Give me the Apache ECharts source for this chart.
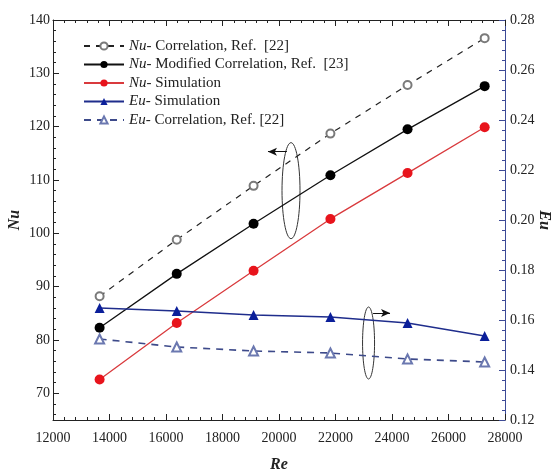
<!DOCTYPE html>
<html>
<head>
<meta charset="utf-8">
<script src="https://cdn.jsdelivr.net/npm/echarts@6/dist/echarts.min.js"></script>
<style>
  html, body { margin: 0; padding: 0; background: #fff; }
  #chart { width: 557px; height: 475px; }
</style>
</head>
<body>
<div id="chart"></div>
<script>
// Re values (x axis)
const reValues = [13650, 16380, 19100, 21820, 24550, 27280];

// Nu series (left axis)
const nuCorrelation = [88.2, 98.8, 108.9, 118.7, 127.8, 136.6];
const nuModified = [82.3, 92.4, 101.8, 110.9, 119.5, 127.6];
const nuSimulation = [72.6, 83.2, 93.0, 102.7, 111.3, 119.9];

// Eu series (right axis)
const euSimulation = [0.1648, 0.1636, 0.1620, 0.1612, 0.1588, 0.1536];
const euCorrelation = [0.1524, 0.1492, 0.1476, 0.1468, 0.1444, 0.1432];

// tick labels
const nuTicks = [70, 80, 90, 100, 110, 120, 130, 140];
const nuMinorTicks = [66, 68, 72, 74, 76, 78, 82, 84, 86, 88, 92, 94, 96, 98,
  102, 104, 106, 108, 112, 114, 116, 118, 122, 124, 126, 128, 132, 134, 136, 138];

// annotations: [Re, value]
const nuArrow = [[20280, 115.3], [19610, 115.3]];
const euArrow = [[23330, 0.1628], [23930, 0.1628]];
const nuEllipse = [20425, 108.0];
const euEllipse = [23170, 0.1508];

const serif = '"Liberation Serif", "DejaVu Serif", serif';
const legendNames = [
  'Nu- Correlation, Ref.  [22]',
  'Nu- Modified Correlation, Ref.  [23]',
  'Nu- Simulation',
  'Eu- Simulation',
  'Eu- Correlation, Ref. [22]'
];

const chart = echarts.init(document.getElementById('chart'));

const pairs = (ys) => reValues.map((x, i) => [x, ys[i]]);

const arrowLine = (pts) => ({
  silent: true,
  symbol: ['none', 'arrow'],
  symbolSize: [6, 9],
  label: { show: false },
  lineStyle: { color: '#111', width: 1, type: 'solid' },
  data: [[{ coord: pts[0] }, { coord: pts[1] }]]
});

const axisName = { fontFamily: serif, fontSize: 16, fontWeight: 'bold', fontStyle: 'italic', color: '#222' };
const tickLabel = { fontFamily: serif, fontSize: 14, color: '#222' };

const option = {
  animation: false,
  textStyle: { fontFamily: serif },
  grid: { left: 53, right: 52, top: 20, bottom: 55, containLabel: false, outerBoundsMode: 'none' },
  legend: {
    orient: 'vertical',
    left: 78,
    top: 33,
    itemWidth: 40,
    itemHeight: 9,
    itemGap: 2.5,
    data: legendNames,
    formatter: (name) => {
      const parts = name.split('- ');
      return '{i|' + parts[0] + '}{n|- ' + parts.slice(1).join('- ') + '}';
    },
    textStyle: {
      fontFamily: serif,
      fontSize: 15,
      lineHeight: 16,
      color: '#222',
      rich: {
        i: { fontStyle: 'italic', fontFamily: serif, fontSize: 15, lineHeight: 16, color: '#222' },
        n: { fontFamily: serif, fontSize: 15, lineHeight: 16, color: '#222' }
      }
    }
  },
  xAxis: [
    {
      type: 'value', position: 'bottom', min: 12000, max: 28000, interval: 2000,
      name: 'Re', nameLocation: 'middle', nameGap: 37, nameMoveOverlap: false,
      nameTextStyle: axisName,
      axisLine: { lineStyle: { color: '#222', width: 1 } },
      axisTick: { inside: true, length: 6, lineStyle: { color: '#222' } },
      minorTick: { show: true, splitNumber: 5, length: 3, lineStyle: { color: '#222' } },
      axisLabel: Object.assign({ margin: 11, formatter: (v) => String(v) }, tickLabel),
      splitLine: { show: false }
    },
    {
      type: 'value', position: 'top', min: 12000, max: 28000, interval: 2000,
      axisLine: { lineStyle: { color: '#222', width: 1 } },
      axisTick: { inside: true, length: 6, lineStyle: { color: '#222' } },
      minorTick: { show: true, splitNumber: 5, length: 3, lineStyle: { color: '#222' } },
      axisLabel: { show: false },
      splitLine: { show: false }
    }
  ],
  yAxis: [
    {
      type: 'value', position: 'left', min: 65, max: 140,
      name: 'Nu', nameLocation: 'middle', nameGap: 30, nameRotate: 90, nameMoveOverlap: false,
      nameTextStyle: axisName,
      axisLine: { show: true, lineStyle: { color: '#222', width: 1 } },
      axisTick: { show: true, inside: true, length: 6, customValues: nuTicks, lineStyle: { color: '#222' } },
      axisLabel: Object.assign({ margin: 3, customValues: nuTicks }, tickLabel),
      splitLine: { show: false }
    },
    {
      type: 'value', position: 'right', min: 0.12, max: 0.28, interval: 0.02,
      name: 'Eu', nameLocation: 'middle', nameGap: 31, nameRotate: -90, nameMoveOverlap: false,
      nameTextStyle: axisName,
      axisLine: { show: true, lineStyle: { color: '#3d4a96', width: 1 } },
      axisTick: { show: true, inside: true, length: 6, lineStyle: { color: '#3d4a96' } },
      minorTick: { show: true, splitNumber: 5, length: 3, lineStyle: { color: '#3d4a96' } },
      axisLabel: Object.assign({ margin: 5, formatter: (v) => v.toFixed(2) }, tickLabel),
      splitLine: { show: false }
    },
    {
      type: 'value', position: 'left', min: 65, max: 140,
      axisLine: { show: false },
      axisTick: { show: true, inside: true, length: 3, customValues: nuMinorTicks, lineStyle: { color: '#222' } },
      axisLabel: { show: false },
      splitLine: { show: false }
    }
  ],
  series: [
    {
      name: legendNames[0], type: 'line', yAxisIndex: 0,
      data: pairs(nuCorrelation),
      symbol: 'emptyCircle', symbolSize: 8,
      lineStyle: { color: '#222', width: 1.2, type: [6, 6] },
      itemStyle: { color: '#7a7a7a', borderWidth: 1 },
      markLine: arrowLine(nuArrow)
    },
    {
      name: legendNames[1], type: 'line', yAxisIndex: 0,
      data: pairs(nuModified),
      symbol: 'circle', symbolSize: 10,
      lineStyle: { color: '#111', width: 1.3 },
      itemStyle: { color: '#000' }
    },
    {
      name: legendNames[2], type: 'line', yAxisIndex: 0,
      data: pairs(nuSimulation),
      symbol: 'circle', symbolSize: 10,
      lineStyle: { color: '#d93a3d', width: 1.3 },
      itemStyle: { color: '#e8141c' }
    },
    {
      name: legendNames[3], type: 'line', yAxisIndex: 1,
      data: pairs(euSimulation),
      symbol: 'triangle', symbolSize: 10,
      lineStyle: { color: '#1f2d8c', width: 1.4 },
      itemStyle: { color: '#0b1f9a' },
      markLine: arrowLine(euArrow)
    },
    {
      name: legendNames[4], type: 'line', yAxisIndex: 1,
      data: pairs(euCorrelation),
      symbol: 'emptyTriangle', symbolSize: 9,
      lineStyle: { color: '#3d4a8a', width: 1.6, type: [7, 6] },
      itemStyle: { color: '#6b78b0', borderWidth: 1 }
    }
  ]
};

chart.setOption(option);

// ellipses drawn around the line groups, positioned from data coordinates
const nuC = chart.convertToPixel({ xAxisIndex: 0, yAxisIndex: 0 }, nuEllipse);
const euC = chart.convertToPixel({ xAxisIndex: 0, yAxisIndex: 1 }, euEllipse);
chart.setOption({
  graphic: [
    { type: 'ellipse', silent: true, shape: { cx: nuC[0], cy: nuC[1], rx: 9, ry: 48 },
      style: { fill: 'none', stroke: '#333', lineWidth: 1 } },
    { type: 'ellipse', silent: true, shape: { cx: euC[0], cy: euC[1], rx: 6, ry: 36 },
      style: { fill: 'none', stroke: '#333', lineWidth: 1 } }
  ]
});
</script>
</body>
</html>
